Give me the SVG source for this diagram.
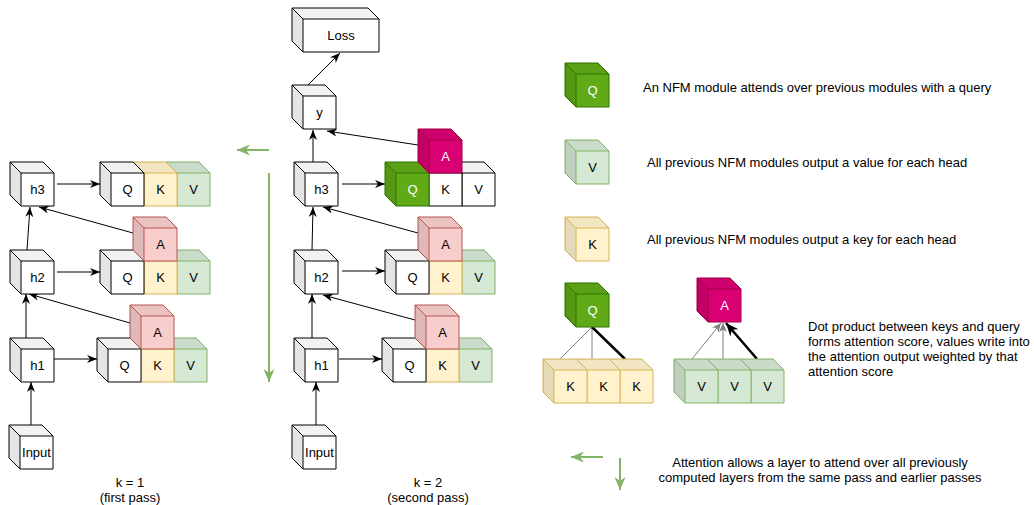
<svg xmlns="http://www.w3.org/2000/svg" xmlns:xlink="http://www.w3.org/1999/xlink" width="1034" height="505" viewBox="0 0 1034 505">
<style>
text{font-family:"Liberation Sans",Arial,Helvetica,sans-serif;font-size:13px;fill:#000}
.c{text-anchor:middle}
.wt{fill:#fff}
.w{fill:#fff;stroke:#000}
.k{fill:#fff2cc;stroke:#d6b656}
.v{fill:#d5e8d4;stroke:#82b366}
.a{fill:#f8cecc;stroke:#b85450}
.am{fill:#d80073;stroke:#a50040}
.q{fill:#60a917;stroke:#2d7600}
.e{stroke:#000;stroke-width:1;fill:none;marker-end:url(#ah)}
.g{stroke:#82b366;stroke-width:2;fill:none;marker-end:url(#gh)}
.t{stroke:#808080;stroke-width:1;fill:none}
</style>
<defs>
<g id="cube">
<path d="M0,0 h33 l11,11 v33 h-33 l-11,-11 Z"/>
<path d="M0,0 l11,11 v33 l-11,-11 Z" fill="#000" fill-opacity="0.1" stroke="none"/>
<path d="M0,0 h33 l11,11 h-33 Z" fill="#000" fill-opacity="0.05" stroke="none"/>
<path d="M0,0 l11,11 h33 M11,11 v33" fill="none"/>
</g>
<marker id="ah" markerUnits="userSpaceOnUse" markerWidth="10" markerHeight="8" viewBox="0 0 10 8" refX="10" refY="4" orient="auto"><path d="M0,0 L10,4 L0,8 L3,4 Z" fill="#000"/></marker>
<marker id="bh" markerUnits="userSpaceOnUse" markerWidth="13" markerHeight="11" viewBox="0 0 13 11" refX="13" refY="5.5" orient="auto"><path d="M0,0 L13,5.5 L0,11 L4,5.5 Z" fill="#000"/></marker>
<marker id="gyh" markerUnits="userSpaceOnUse" markerWidth="9" markerHeight="8" viewBox="0 0 9 8" refX="9" refY="4" orient="auto"><path d="M0,0 L9,4 L0,8 L2.5,4 Z" fill="#808080"/></marker>
<marker id="gh" markerUnits="userSpaceOnUse" markerWidth="13" markerHeight="11" viewBox="0 0 13 11" refX="13" refY="5.5" orient="auto"><path d="M0,0 L13,5.5 L0,11 L4,5.5 Z" fill="#82b366"/></marker>
</defs>

<!-- connectors -->
<g id="connectors">
<line class="e" x1="31" y1="425" x2="31" y2="382"/>
<line class="e" x1="26" y1="338" x2="26" y2="294"/>
<line class="e" x1="27" y1="250" x2="30" y2="207"/>
<line class="e" x1="54" y1="359" x2="97" y2="359"/>
<line class="e" x1="57" y1="272" x2="100" y2="272"/>
<line class="e" x1="57" y1="184" x2="100" y2="184"/>
<line class="e" x1="130" y1="323" x2="29" y2="294"/>
<line class="e" x1="133" y1="233" x2="39" y2="207"/>

<line class="e" x1="316" y1="425" x2="316" y2="382"/>
<line class="e" x1="312" y1="338" x2="312" y2="294"/>
<line class="e" x1="312" y1="250" x2="313" y2="207"/>
<line class="e" x1="313" y1="162" x2="313" y2="130"/>
<line class="e" x1="308" y1="85" x2="340" y2="53"/>
<line class="e" x1="339" y1="359" x2="382" y2="359"/>
<line class="e" x1="342" y1="271" x2="385" y2="271"/>
<line class="e" x1="342" y1="184" x2="385" y2="184"/>
<line class="e" x1="415" y1="320" x2="323" y2="295"/>
<line class="e" x1="418" y1="233" x2="323" y2="207"/>
<line class="e" x1="418" y1="145" x2="327" y2="131"/>

<line class="g" x1="269" y1="150" x2="237" y2="150"/>
<line class="g" x1="269" y1="173" x2="269" y2="382"/>
<line class="g" x1="603" y1="457" x2="571" y2="457"/>
<line class="g" x1="620" y1="458" x2="620" y2="490"/>

<line class="t" x1="592" y1="327" x2="560" y2="359"/>
<line class="t" x1="592" y1="327" x2="592" y2="359"/>
<line x1="592" y1="327" x2="625" y2="359" stroke="#000" stroke-width="2.5"/>
<line class="t" x1="692" y1="359" x2="721" y2="323" marker-end="url(#gyh)"/>
<line class="t" x1="723" y1="359" x2="723" y2="323" marker-end="url(#gyh)"/>
<line x1="757" y1="359" x2="726" y2="323" stroke="#000" stroke-width="2.5" marker-end="url(#bh)"/>
</g>

<!-- left column -->
<g id="L-input"><use href="#cube" x="9" y="425" class="w"/><text class="c" x="36.5" y="457">Input</text></g>
<g id="L-h1"><use href="#cube" x="10" y="338" class="w"/><text class="c" x="37.5" y="370">h1</text></g>
<g id="L-h2"><use href="#cube" x="10" y="250" class="w"/><text class="c" x="37.5" y="282">h2</text></g>
<g id="L-h3"><use href="#cube" x="10" y="162" class="w"/><text class="c" x="37.5" y="194">h3</text></g>

<g id="L-row3">
<use href="#cube" x="166" y="162" class="v"/><text class="c" x="193.5" y="194">V</text>
<use href="#cube" x="133" y="162" class="k"/><text class="c" x="160.5" y="194">K</text>
<use href="#cube" x="100" y="162" class="w"/><text class="c" x="127.5" y="194">Q</text>
</g>
<g id="L-row2">
<use href="#cube" x="166" y="250" class="v"/><text class="c" x="193.5" y="282">V</text>
<use href="#cube" x="133" y="250" class="k"/><text class="c" x="160.5" y="282">K</text>
<use href="#cube" x="100" y="250" class="w"/><text class="c" x="127.5" y="282">Q</text>
<use href="#cube" x="133" y="217" class="a"/><text class="c" x="160.5" y="249">A</text>
</g>
<g id="L-row1">
<use href="#cube" x="163" y="338" class="v"/><text class="c" x="190.5" y="370">V</text>
<use href="#cube" x="130" y="338" class="k"/><text class="c" x="157.5" y="370">K</text>
<use href="#cube" x="97" y="338" class="w"/><text class="c" x="124.5" y="370">Q</text>
<use href="#cube" x="130" y="305" class="a"/><text class="c" x="157.5" y="337">A</text>
</g>
<g id="L-label"><text class="c" x="130" y="487">k = 1</text><text class="c" x="130" y="502">(first pass)</text></g>

<!-- middle column -->
<g id="M-loss">
<path class="w" d="M292,8 h76 l11,11 v33 h-76 l-11,-11 Z"/>
<path d="M292,8 l11,11 v33 l-11,-11 Z" fill="#000" fill-opacity="0.1"/>
<path d="M292,8 h76 l11,11 h-76 Z" fill="#000" fill-opacity="0.05"/>
<path d="M292,8 l11,11 h76 M303,19 v33" fill="none" stroke="#000"/>
<text class="c" x="341" y="40">Loss</text>
</g>
<g id="M-y"><use href="#cube" x="292" y="85" class="w"/><text class="c" x="319.5" y="117">y</text></g>
<g id="M-h3"><use href="#cube" x="294" y="162" class="w"/><text class="c" x="321.5" y="194">h3</text></g>
<g id="M-h2"><use href="#cube" x="294" y="250" class="w"/><text class="c" x="321.5" y="282">h2</text></g>
<g id="M-h1"><use href="#cube" x="294" y="338" class="w"/><text class="c" x="321.5" y="370">h1</text></g>
<g id="M-input"><use href="#cube" x="292" y="425" class="w"/><text class="c" x="319.5" y="457">Input</text></g>

<g id="M-row3">
<use href="#cube" x="451" y="162" class="w"/><text class="c" x="478.5" y="194">V</text>
<use href="#cube" x="418" y="162" class="w"/><text class="c" x="445.5" y="194">K</text>
<use href="#cube" x="385" y="162" class="q"/><text class="c wt" x="412.5" y="194">Q</text>
<use href="#cube" x="418" y="129" class="am"/><text class="c wt" x="445.5" y="161">A</text>
</g>
<g id="M-row2">
<use href="#cube" x="451" y="250" class="v"/><text class="c" x="478.5" y="282">V</text>
<use href="#cube" x="418" y="250" class="k"/><text class="c" x="445.5" y="282">K</text>
<use href="#cube" x="385" y="250" class="w"/><text class="c" x="412.5" y="282">Q</text>
<use href="#cube" x="418" y="217" class="a"/><text class="c" x="445.5" y="249">A</text>
</g>
<g id="M-row1">
<use href="#cube" x="448" y="338" class="v"/><text class="c" x="475.5" y="370">V</text>
<use href="#cube" x="415" y="338" class="k"/><text class="c" x="442.5" y="370">K</text>
<use href="#cube" x="382" y="338" class="w"/><text class="c" x="409.5" y="370">Q</text>
<use href="#cube" x="415" y="305" class="a"/><text class="c" x="442.5" y="337">A</text>
</g>
<g id="M-label"><text class="c" x="428" y="487">k = 2</text><text class="c" x="428" y="502">(second pass)</text></g>

<!-- legend -->
<g id="leg-q"><use href="#cube" x="565" y="63" class="q"/><text class="c wt" x="592.5" y="95">Q</text>
<text x="643" y="92">An NFM module attends over previous modules with a query</text></g>
<g id="leg-v"><use href="#cube" x="565" y="140" class="v"/><text class="c" x="592.5" y="172">V</text>
<text x="647" y="167">All previous NFM modules output a value for each head</text></g>
<g id="leg-k"><use href="#cube" x="565" y="217" class="k"/><text class="c" x="592.5" y="249">K</text>
<text x="647" y="244">All previous NFM modules output a key for each head</text></g>

<g id="dot-q"><use href="#cube" x="565" y="283" class="q"/><text class="c wt" x="592.5" y="315">Q</text></g>
<g id="dot-k">
<use href="#cube" x="609" y="359" class="k"/><text class="c" x="636.5" y="391">K</text>
<use href="#cube" x="576" y="359" class="k"/><text class="c" x="603.5" y="391">K</text>
<use href="#cube" x="543" y="359" class="k"/><text class="c" x="570.5" y="391">K</text>
</g>
<g id="dot-a"><use href="#cube" x="697" y="278" class="am"/><text class="c wt" x="724.5" y="310">A</text></g>
<g id="dot-v">
<use href="#cube" x="740" y="359" class="v"/><text class="c" x="767.5" y="391">V</text>
<use href="#cube" x="707" y="359" class="v"/><text class="c" x="734.5" y="391">V</text>
<use href="#cube" x="674" y="359" class="v"/><text class="c" x="701.5" y="391">V</text>
</g>
<g id="dot-text">
<text x="808" y="331">Dot product between keys and query</text>
<text x="808" y="346">forms attention score, values write into</text>
<text x="808" y="361">the attention output weighted by that</text>
<text x="808" y="376">attention score</text>
</g>
<g id="attn-text">
<text class="c" x="820" y="467">Attention allows a layer to attend over all previously</text>
<text class="c" x="820" y="482">computed layers from the same pass and earlier passes</text>
</g>
</svg>
